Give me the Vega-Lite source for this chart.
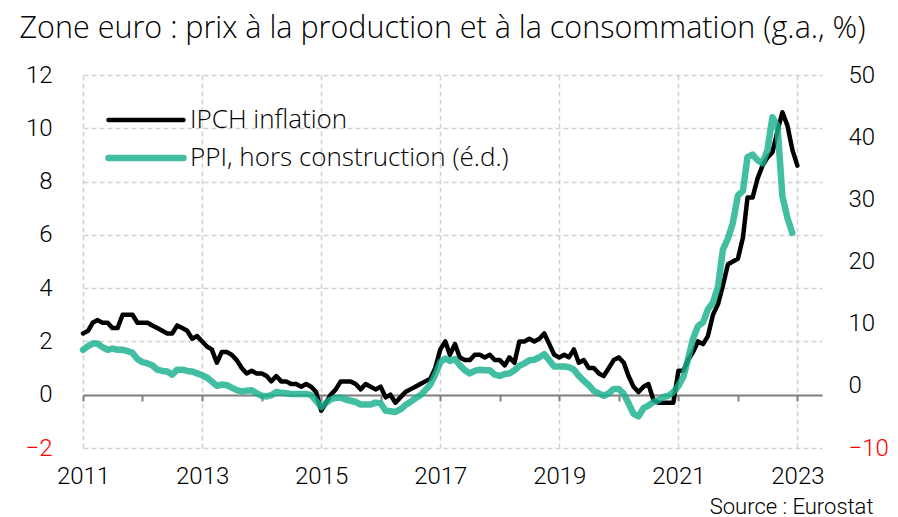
{
  "$schema": "https://vega.github.io/schema/vega-lite/v6.json",
  "width": 739,
  "height": 373,
  "autosize": {"type": "none"},
  "padding": {"left": 83, "top": 75, "right": 76, "bottom": 69},
  "config": {
    "font": "Roboto",
    "view": {"stroke": null},
    "axis": {"labelFont": "Roboto", "labelFontWeight": 300, "labelFontSize": 24, "labelColor": "#000000", "titleFont": "Roboto"}
  },
  "title": {
    "text": "Zone euro : prix à la production et à la consommation (g.a., %)",
    "font": "Open Sans",
    "fontSize": 30.5,
    "fontWeight": 300,
    "color": "#000000",
    "anchor": "middle",
    "offset": 19,
    "dx": -10
  },
  "datasets": {
    "ipch": [
      {"date":"2011-01-01","series":"IPCH inflation","value":2.3},{"date":"2011-02-01","series":"IPCH inflation","value":2.4},{"date":"2011-03-01","series":"IPCH inflation","value":2.7},{"date":"2011-04-01","series":"IPCH inflation","value":2.8},{"date":"2011-05-01","series":"IPCH inflation","value":2.7},{"date":"2011-06-01","series":"IPCH inflation","value":2.7},{"date":"2011-07-01","series":"IPCH inflation","value":2.5},{"date":"2011-08-01","series":"IPCH inflation","value":2.5},{"date":"2011-09-01","series":"IPCH inflation","value":3.0},{"date":"2011-10-01","series":"IPCH inflation","value":3.0},{"date":"2011-11-01","series":"IPCH inflation","value":3.0},{"date":"2011-12-01","series":"IPCH inflation","value":2.7},
      {"date":"2012-01-01","series":"IPCH inflation","value":2.7},{"date":"2012-02-01","series":"IPCH inflation","value":2.7},{"date":"2012-03-01","series":"IPCH inflation","value":2.6},{"date":"2012-04-01","series":"IPCH inflation","value":2.5},{"date":"2012-05-01","series":"IPCH inflation","value":2.4},{"date":"2012-06-01","series":"IPCH inflation","value":2.3},{"date":"2012-07-01","series":"IPCH inflation","value":2.3},{"date":"2012-08-01","series":"IPCH inflation","value":2.6},{"date":"2012-09-01","series":"IPCH inflation","value":2.5},{"date":"2012-10-01","series":"IPCH inflation","value":2.4},{"date":"2012-11-01","series":"IPCH inflation","value":2.1},{"date":"2012-12-01","series":"IPCH inflation","value":2.2},
      {"date":"2013-01-01","series":"IPCH inflation","value":2.0},{"date":"2013-02-01","series":"IPCH inflation","value":1.8},{"date":"2013-03-01","series":"IPCH inflation","value":1.7},{"date":"2013-04-01","series":"IPCH inflation","value":1.2},{"date":"2013-05-01","series":"IPCH inflation","value":1.6},{"date":"2013-06-01","series":"IPCH inflation","value":1.6},{"date":"2013-07-01","series":"IPCH inflation","value":1.5},{"date":"2013-08-01","series":"IPCH inflation","value":1.3},{"date":"2013-09-01","series":"IPCH inflation","value":1.0},{"date":"2013-10-01","series":"IPCH inflation","value":0.8},{"date":"2013-11-01","series":"IPCH inflation","value":0.9},{"date":"2013-12-01","series":"IPCH inflation","value":0.8},
      {"date":"2014-01-01","series":"IPCH inflation","value":0.8},{"date":"2014-02-01","series":"IPCH inflation","value":0.7},{"date":"2014-03-01","series":"IPCH inflation","value":0.5},{"date":"2014-04-01","series":"IPCH inflation","value":0.7},{"date":"2014-05-01","series":"IPCH inflation","value":0.5},{"date":"2014-06-01","series":"IPCH inflation","value":0.5},{"date":"2014-07-01","series":"IPCH inflation","value":0.4},{"date":"2014-08-01","series":"IPCH inflation","value":0.4},{"date":"2014-09-01","series":"IPCH inflation","value":0.3},{"date":"2014-10-01","series":"IPCH inflation","value":0.4},{"date":"2014-11-01","series":"IPCH inflation","value":0.3},{"date":"2014-12-01","series":"IPCH inflation","value":0.1},
      {"date":"2015-01-01","series":"IPCH inflation","value":-0.6},{"date":"2015-02-01","series":"IPCH inflation","value":-0.3},{"date":"2015-03-01","series":"IPCH inflation","value":0.0},{"date":"2015-04-01","series":"IPCH inflation","value":0.2},{"date":"2015-05-01","series":"IPCH inflation","value":0.5},{"date":"2015-06-01","series":"IPCH inflation","value":0.5},{"date":"2015-07-01","series":"IPCH inflation","value":0.5},{"date":"2015-08-01","series":"IPCH inflation","value":0.4},{"date":"2015-09-01","series":"IPCH inflation","value":0.2},{"date":"2015-10-01","series":"IPCH inflation","value":0.4},{"date":"2015-11-01","series":"IPCH inflation","value":0.3},{"date":"2015-12-01","series":"IPCH inflation","value":0.2},
      {"date":"2016-01-01","series":"IPCH inflation","value":0.3},{"date":"2016-02-01","series":"IPCH inflation","value":-0.1},{"date":"2016-03-01","series":"IPCH inflation","value":0.0},{"date":"2016-04-01","series":"IPCH inflation","value":-0.3},{"date":"2016-05-01","series":"IPCH inflation","value":-0.1},{"date":"2016-06-01","series":"IPCH inflation","value":0.1},{"date":"2016-07-01","series":"IPCH inflation","value":0.2},{"date":"2016-08-01","series":"IPCH inflation","value":0.3},{"date":"2016-09-01","series":"IPCH inflation","value":0.4},{"date":"2016-10-01","series":"IPCH inflation","value":0.5},{"date":"2016-11-01","series":"IPCH inflation","value":0.6},{"date":"2016-12-01","series":"IPCH inflation","value":1.0},
      {"date":"2017-01-01","series":"IPCH inflation","value":1.7},{"date":"2017-02-01","series":"IPCH inflation","value":2.0},{"date":"2017-03-01","series":"IPCH inflation","value":1.5},{"date":"2017-04-01","series":"IPCH inflation","value":1.9},{"date":"2017-05-01","series":"IPCH inflation","value":1.4},{"date":"2017-06-01","series":"IPCH inflation","value":1.3},{"date":"2017-07-01","series":"IPCH inflation","value":1.3},{"date":"2017-08-01","series":"IPCH inflation","value":1.5},{"date":"2017-09-01","series":"IPCH inflation","value":1.5},{"date":"2017-10-01","series":"IPCH inflation","value":1.4},{"date":"2017-11-01","series":"IPCH inflation","value":1.5},{"date":"2017-12-01","series":"IPCH inflation","value":1.3},
      {"date":"2018-01-01","series":"IPCH inflation","value":1.3},{"date":"2018-02-01","series":"IPCH inflation","value":1.1},{"date":"2018-03-01","series":"IPCH inflation","value":1.4},{"date":"2018-04-01","series":"IPCH inflation","value":1.2},{"date":"2018-05-01","series":"IPCH inflation","value":2.0},{"date":"2018-06-01","series":"IPCH inflation","value":2.0},{"date":"2018-07-01","series":"IPCH inflation","value":2.1},{"date":"2018-08-01","series":"IPCH inflation","value":2.0},{"date":"2018-09-01","series":"IPCH inflation","value":2.1},{"date":"2018-10-01","series":"IPCH inflation","value":2.3},{"date":"2018-11-01","series":"IPCH inflation","value":1.9},{"date":"2018-12-01","series":"IPCH inflation","value":1.5},
      {"date":"2019-01-01","series":"IPCH inflation","value":1.4},{"date":"2019-02-01","series":"IPCH inflation","value":1.5},{"date":"2019-03-01","series":"IPCH inflation","value":1.4},{"date":"2019-04-01","series":"IPCH inflation","value":1.7},{"date":"2019-05-01","series":"IPCH inflation","value":1.2},{"date":"2019-06-01","series":"IPCH inflation","value":1.3},{"date":"2019-07-01","series":"IPCH inflation","value":1.0},{"date":"2019-08-01","series":"IPCH inflation","value":1.0},{"date":"2019-09-01","series":"IPCH inflation","value":0.8},{"date":"2019-10-01","series":"IPCH inflation","value":0.7},{"date":"2019-11-01","series":"IPCH inflation","value":1.0},{"date":"2019-12-01","series":"IPCH inflation","value":1.3},
      {"date":"2020-01-01","series":"IPCH inflation","value":1.4},{"date":"2020-02-01","series":"IPCH inflation","value":1.2},{"date":"2020-03-01","series":"IPCH inflation","value":0.7},{"date":"2020-04-01","series":"IPCH inflation","value":0.3},{"date":"2020-05-01","series":"IPCH inflation","value":0.1},{"date":"2020-06-01","series":"IPCH inflation","value":0.3},{"date":"2020-07-01","series":"IPCH inflation","value":0.4},{"date":"2020-08-01","series":"IPCH inflation","value":-0.2},{"date":"2020-09-01","series":"IPCH inflation","value":-0.3},{"date":"2020-10-01","series":"IPCH inflation","value":-0.3},{"date":"2020-11-01","series":"IPCH inflation","value":-0.3},{"date":"2020-12-01","series":"IPCH inflation","value":-0.3},
      {"date":"2021-01-01","series":"IPCH inflation","value":0.9},{"date":"2021-02-01","series":"IPCH inflation","value":0.9},{"date":"2021-03-01","series":"IPCH inflation","value":1.3},{"date":"2021-04-01","series":"IPCH inflation","value":1.6},{"date":"2021-05-01","series":"IPCH inflation","value":2.0},{"date":"2021-06-01","series":"IPCH inflation","value":1.9},{"date":"2021-07-01","series":"IPCH inflation","value":2.2},{"date":"2021-08-01","series":"IPCH inflation","value":3.0},{"date":"2021-09-01","series":"IPCH inflation","value":3.4},{"date":"2021-10-01","series":"IPCH inflation","value":4.1},{"date":"2021-11-01","series":"IPCH inflation","value":4.9},{"date":"2021-12-01","series":"IPCH inflation","value":5.0},
      {"date":"2022-01-01","series":"IPCH inflation","value":5.1},{"date":"2022-02-01","series":"IPCH inflation","value":5.9},{"date":"2022-03-01","series":"IPCH inflation","value":7.4},{"date":"2022-04-01","series":"IPCH inflation","value":7.4},{"date":"2022-05-01","series":"IPCH inflation","value":8.1},{"date":"2022-06-01","series":"IPCH inflation","value":8.6},{"date":"2022-07-01","series":"IPCH inflation","value":8.9},{"date":"2022-08-01","series":"IPCH inflation","value":9.1},{"date":"2022-09-01","series":"IPCH inflation","value":9.9},{"date":"2022-10-01","series":"IPCH inflation","value":10.6},{"date":"2022-11-01","series":"IPCH inflation","value":10.1},{"date":"2022-12-01","series":"IPCH inflation","value":9.2},
      {"date":"2023-01-01","series":"IPCH inflation","value":8.6}
    ],
    "ppi": [
      {"date":"2011-01-01","series":"PPI, hors construction (é.d.)","value":5.8},{"date":"2011-02-01","series":"PPI, hors construction (é.d.)","value":6.4},{"date":"2011-03-01","series":"PPI, hors construction (é.d.)","value":6.8},{"date":"2011-04-01","series":"PPI, hors construction (é.d.)","value":6.8},{"date":"2011-05-01","series":"PPI, hors construction (é.d.)","value":6.2},{"date":"2011-06-01","series":"PPI, hors construction (é.d.)","value":5.8},{"date":"2011-07-01","series":"PPI, hors construction (é.d.)","value":6.0},{"date":"2011-08-01","series":"PPI, hors construction (é.d.)","value":5.8},{"date":"2011-09-01","series":"PPI, hors construction (é.d.)","value":5.8},{"date":"2011-10-01","series":"PPI, hors construction (é.d.)","value":5.6},{"date":"2011-11-01","series":"PPI, hors construction (é.d.)","value":5.3},{"date":"2011-12-01","series":"PPI, hors construction (é.d.)","value":4.3},
      {"date":"2012-01-01","series":"PPI, hors construction (é.d.)","value":3.8},{"date":"2012-02-01","series":"PPI, hors construction (é.d.)","value":3.6},{"date":"2012-03-01","series":"PPI, hors construction (é.d.)","value":3.3},{"date":"2012-04-01","series":"PPI, hors construction (é.d.)","value":2.6},{"date":"2012-05-01","series":"PPI, hors construction (é.d.)","value":2.4},{"date":"2012-06-01","series":"PPI, hors construction (é.d.)","value":2.3},{"date":"2012-07-01","series":"PPI, hors construction (é.d.)","value":1.8},{"date":"2012-08-01","series":"PPI, hors construction (é.d.)","value":2.6},{"date":"2012-09-01","series":"PPI, hors construction (é.d.)","value":2.6},{"date":"2012-10-01","series":"PPI, hors construction (é.d.)","value":2.4},{"date":"2012-11-01","series":"PPI, hors construction (é.d.)","value":2.3},{"date":"2012-12-01","series":"PPI, hors construction (é.d.)","value":2.0},
      {"date":"2013-01-01","series":"PPI, hors construction (é.d.)","value":1.7},{"date":"2013-02-01","series":"PPI, hors construction (é.d.)","value":1.3},{"date":"2013-03-01","series":"PPI, hors construction (é.d.)","value":0.7},{"date":"2013-04-01","series":"PPI, hors construction (é.d.)","value":0.0},{"date":"2013-05-01","series":"PPI, hors construction (é.d.)","value":0.2},{"date":"2013-06-01","series":"PPI, hors construction (é.d.)","value":0.1},{"date":"2013-07-01","series":"PPI, hors construction (é.d.)","value":-0.3},{"date":"2013-08-01","series":"PPI, hors construction (é.d.)","value":-0.7},{"date":"2013-09-01","series":"PPI, hors construction (é.d.)","value":-0.9},{"date":"2013-10-01","series":"PPI, hors construction (é.d.)","value":-0.8},{"date":"2013-11-01","series":"PPI, hors construction (é.d.)","value":-0.7},{"date":"2013-12-01","series":"PPI, hors construction (é.d.)","value":-1.2},
      {"date":"2014-01-01","series":"PPI, hors construction (é.d.)","value":-1.6},{"date":"2014-02-01","series":"PPI, hors construction (é.d.)","value":-1.7},{"date":"2014-03-01","series":"PPI, hors construction (é.d.)","value":-1.5},{"date":"2014-04-01","series":"PPI, hors construction (é.d.)","value":-1.0},{"date":"2014-05-01","series":"PPI, hors construction (é.d.)","value":-1.1},{"date":"2014-06-01","series":"PPI, hors construction (é.d.)","value":-1.2},{"date":"2014-07-01","series":"PPI, hors construction (é.d.)","value":-1.3},{"date":"2014-08-01","series":"PPI, hors construction (é.d.)","value":-1.3},{"date":"2014-09-01","series":"PPI, hors construction (é.d.)","value":-1.3},{"date":"2014-10-01","series":"PPI, hors construction (é.d.)","value":-1.3},{"date":"2014-11-01","series":"PPI, hors construction (é.d.)","value":-1.5},{"date":"2014-12-01","series":"PPI, hors construction (é.d.)","value":-2.4},
      {"date":"2015-01-01","series":"PPI, hors construction (é.d.)","value":-3.4},{"date":"2015-02-01","series":"PPI, hors construction (é.d.)","value":-2.7},{"date":"2015-03-01","series":"PPI, hors construction (é.d.)","value":-2.2},{"date":"2015-04-01","series":"PPI, hors construction (é.d.)","value":-1.9},{"date":"2015-05-01","series":"PPI, hors construction (é.d.)","value":-1.9},{"date":"2015-06-01","series":"PPI, hors construction (é.d.)","value":-2.2},{"date":"2015-07-01","series":"PPI, hors construction (é.d.)","value":-2.4},{"date":"2015-08-01","series":"PPI, hors construction (é.d.)","value":-2.6},{"date":"2015-09-01","series":"PPI, hors construction (é.d.)","value":-3.0},{"date":"2015-10-01","series":"PPI, hors construction (é.d.)","value":-3.0},{"date":"2015-11-01","series":"PPI, hors construction (é.d.)","value":-3.0},{"date":"2015-12-01","series":"PPI, hors construction (é.d.)","value":-2.7},
      {"date":"2016-01-01","series":"PPI, hors construction (é.d.)","value":-2.8},{"date":"2016-02-01","series":"PPI, hors construction (é.d.)","value":-4.0},{"date":"2016-03-01","series":"PPI, hors construction (é.d.)","value":-4.1},{"date":"2016-04-01","series":"PPI, hors construction (é.d.)","value":-4.2},{"date":"2016-05-01","series":"PPI, hors construction (é.d.)","value":-3.8},{"date":"2016-06-01","series":"PPI, hors construction (é.d.)","value":-3.1},{"date":"2016-07-01","series":"PPI, hors construction (é.d.)","value":-2.6},{"date":"2016-08-01","series":"PPI, hors construction (é.d.)","value":-2.0},{"date":"2016-09-01","series":"PPI, hors construction (é.d.)","value":-1.5},{"date":"2016-10-01","series":"PPI, hors construction (é.d.)","value":-0.7},{"date":"2016-11-01","series":"PPI, hors construction (é.d.)","value":0.2},{"date":"2016-12-01","series":"PPI, hors construction (é.d.)","value":1.8},
      {"date":"2017-01-01","series":"PPI, hors construction (é.d.)","value":3.8},{"date":"2017-02-01","series":"PPI, hors construction (é.d.)","value":4.4},{"date":"2017-03-01","series":"PPI, hors construction (é.d.)","value":4.0},{"date":"2017-04-01","series":"PPI, hors construction (é.d.)","value":4.3},{"date":"2017-05-01","series":"PPI, hors construction (é.d.)","value":3.3},{"date":"2017-06-01","series":"PPI, hors construction (é.d.)","value":2.5},{"date":"2017-07-01","series":"PPI, hors construction (é.d.)","value":2.0},{"date":"2017-08-01","series":"PPI, hors construction (é.d.)","value":2.4},{"date":"2017-09-01","series":"PPI, hors construction (é.d.)","value":2.6},{"date":"2017-10-01","series":"PPI, hors construction (é.d.)","value":2.5},{"date":"2017-11-01","series":"PPI, hors construction (é.d.)","value":2.5},{"date":"2017-12-01","series":"PPI, hors construction (é.d.)","value":1.8},
      {"date":"2018-01-01","series":"PPI, hors construction (é.d.)","value":1.6},{"date":"2018-02-01","series":"PPI, hors construction (é.d.)","value":1.9},{"date":"2018-03-01","series":"PPI, hors construction (é.d.)","value":2.0},{"date":"2018-04-01","series":"PPI, hors construction (é.d.)","value":2.5},{"date":"2018-05-01","series":"PPI, hors construction (é.d.)","value":3.2},{"date":"2018-06-01","series":"PPI, hors construction (é.d.)","value":3.6},{"date":"2018-07-01","series":"PPI, hors construction (é.d.)","value":4.1},{"date":"2018-08-01","series":"PPI, hors construction (é.d.)","value":4.2},{"date":"2018-09-01","series":"PPI, hors construction (é.d.)","value":4.6},{"date":"2018-10-01","series":"PPI, hors construction (é.d.)","value":5.1},{"date":"2018-11-01","series":"PPI, hors construction (é.d.)","value":4.1},{"date":"2018-12-01","series":"PPI, hors construction (é.d.)","value":3.1},
      {"date":"2019-01-01","series":"PPI, hors construction (é.d.)","value":3.1},{"date":"2019-02-01","series":"PPI, hors construction (é.d.)","value":3.1},{"date":"2019-03-01","series":"PPI, hors construction (é.d.)","value":3.0},{"date":"2019-04-01","series":"PPI, hors construction (é.d.)","value":2.6},{"date":"2019-05-01","series":"PPI, hors construction (é.d.)","value":1.6},{"date":"2019-06-01","series":"PPI, hors construction (é.d.)","value":0.8},{"date":"2019-07-01","series":"PPI, hors construction (é.d.)","value":0.1},{"date":"2019-08-01","series":"PPI, hors construction (é.d.)","value":-0.8},{"date":"2019-09-01","series":"PPI, hors construction (é.d.)","value":-1.2},{"date":"2019-10-01","series":"PPI, hors construction (é.d.)","value":-1.6},{"date":"2019-11-01","series":"PPI, hors construction (é.d.)","value":-1.2},{"date":"2019-12-01","series":"PPI, hors construction (é.d.)","value":-0.5},
      {"date":"2020-01-01","series":"PPI, hors construction (é.d.)","value":-0.5},{"date":"2020-02-01","series":"PPI, hors construction (é.d.)","value":-1.3},{"date":"2020-03-01","series":"PPI, hors construction (é.d.)","value":-2.8},{"date":"2020-04-01","series":"PPI, hors construction (é.d.)","value":-4.5},{"date":"2020-05-01","series":"PPI, hors construction (é.d.)","value":-4.9},{"date":"2020-06-01","series":"PPI, hors construction (é.d.)","value":-3.6},{"date":"2020-07-01","series":"PPI, hors construction (é.d.)","value":-3.2},{"date":"2020-08-01","series":"PPI, hors construction (é.d.)","value":-2.6},{"date":"2020-09-01","series":"PPI, hors construction (é.d.)","value":-2.3},{"date":"2020-10-01","series":"PPI, hors construction (é.d.)","value":-1.8},{"date":"2020-11-01","series":"PPI, hors construction (é.d.)","value":-1.6},{"date":"2020-12-01","series":"PPI, hors construction (é.d.)","value":-1.0},
      {"date":"2021-01-01","series":"PPI, hors construction (é.d.)","value":0.0},{"date":"2021-02-01","series":"PPI, hors construction (é.d.)","value":1.5},{"date":"2021-03-01","series":"PPI, hors construction (é.d.)","value":4.3},{"date":"2021-04-01","series":"PPI, hors construction (é.d.)","value":7.6},{"date":"2021-05-01","series":"PPI, hors construction (é.d.)","value":9.6},{"date":"2021-06-01","series":"PPI, hors construction (é.d.)","value":10.2},{"date":"2021-07-01","series":"PPI, hors construction (é.d.)","value":12.3},{"date":"2021-08-01","series":"PPI, hors construction (é.d.)","value":13.4},{"date":"2021-09-01","series":"PPI, hors construction (é.d.)","value":16.0},{"date":"2021-10-01","series":"PPI, hors construction (é.d.)","value":21.9},{"date":"2021-11-01","series":"PPI, hors construction (é.d.)","value":23.7},{"date":"2021-12-01","series":"PPI, hors construction (é.d.)","value":26.2},
      {"date":"2022-01-01","series":"PPI, hors construction (é.d.)","value":30.6},{"date":"2022-02-01","series":"PPI, hors construction (é.d.)","value":31.4},{"date":"2022-03-01","series":"PPI, hors construction (é.d.)","value":36.8},{"date":"2022-04-01","series":"PPI, hors construction (é.d.)","value":37.2},{"date":"2022-05-01","series":"PPI, hors construction (é.d.)","value":36.3},{"date":"2022-06-01","series":"PPI, hors construction (é.d.)","value":35.8},{"date":"2022-07-01","series":"PPI, hors construction (é.d.)","value":37.9},{"date":"2022-08-01","series":"PPI, hors construction (é.d.)","value":43.2},{"date":"2022-09-01","series":"PPI, hors construction (é.d.)","value":41.8},{"date":"2022-10-01","series":"PPI, hors construction (é.d.)","value":30.5},{"date":"2022-11-01","series":"PPI, hors construction (é.d.)","value":27.0},{"date":"2022-12-01","series":"PPI, hors construction (é.d.)","value":24.6}
    ]
  },
  "layer": [
    {
      "data": {"name": "ipch"},
      "mark": {"type": "line", "strokeWidth": 4.5, "strokeJoin": "round", "strokeCap": "round"},
      "encoding": {
        "x": {
          "field": "date",
          "type": "temporal",
          "scale": {"type": "utc", "domain": [{"year": 2011, "month": 1, "date": 1, "utc": true}, {"year": 2023, "month": 6, "date": 1, "utc": true}]},
          "axis": {
            "orient": "bottom",
            "values": [
              {"year": 2011, "month": 1, "date": 1, "utc": true},
              {"year": 2013, "month": 1, "date": 1, "utc": true},
              {"year": 2015, "month": 1, "date": 1, "utc": true},
              {"year": 2017, "month": 1, "date": 1, "utc": true},
              {"year": 2019, "month": 1, "date": 1, "utc": true},
              {"year": 2021, "month": 1, "date": 1, "utc": true},
              {"year": 2023, "month": 1, "date": 1, "utc": true}
            ],
            "format": "%Y",
            "grid": true,
            "gridDash": [5, 3],
            "gridColor": "#d2d2d2",
            "gridWidth": 1.5,
            "domain": false,
            "ticks": false,
            "labelPadding": 16,
            "labelFlush": false,
            "labelOverlap": false,
            "title": "Source : Eurostat",
            "titleX": 790,
            "titleY": 65,
            "titleAlign": "right",
            "titleBaseline": "alphabetic",
            "titleFontSize": 22,
            "titleFontWeight": 300,
            "titleColor": "#000000"
          }
        },
        "y": {
          "field": "value",
          "type": "quantitative",
          "scale": {"domain": [-2, 12], "nice": false, "zero": false},
          "axis": {
            "orient": "left",
            "values": [-2, 0, 2, 4, 6, 8, 10, 12],
            "grid": true,
            "gridDash": [5, 3],
            "gridColor": "#d2d2d2",
            "gridWidth": 1.5,
            "domain": false,
            "ticks": false,
            "labelPadding": 31,
            "labelColor": {"condition": {"test": "datum.value < 0", "value": "#ff0000"}, "value": "#000000"},
            "title": null
          }
        },
        "color": {
          "field": "series",
          "type": "nominal",
          "scale": {"domain": ["IPCH inflation", "PPI, hors construction (é.d.)"], "range": ["#000000", "#18b08e"]},
          "legend": {
            "title": null,
            "orient": "none",
            "legendX": 50,
            "legendY": 32,
            "padding": 0,
            "symbolType": "stroke",
            "symbolSize": 5625,
            "symbolStrokeWidth": 5,
            "labelFont": "Open Sans",
            "labelFontWeight": 300,
            "labelFontSize": 26,
            "labelColor": "#000000",
            "labelOffset": 31,
            "labelLimit": 600,
            "rowPadding": 12,
            "encode": {
              "symbols": {
                "update": {
                  "strokeWidth": {"signal": "datum.index === 1 ? 6.5 : 4.5"},
                  "opacity": {"signal": "datum.index === 1 ? 0.82 : 1"},
                  "strokeCap": {"value": "round"}
                }
              }
            }
          }
        }
      }
    },
    {
      "data": {"name": "ppi"},
      "mark": {"type": "line", "strokeWidth": 6.5, "strokeJoin": "round", "strokeCap": "round", "opacity": 0.82},
      "encoding": {
        "x": {
          "field": "date",
          "type": "temporal",
          "axis": {
            "orient": "bottom",
            "offset": -53,
            "values": [
              {"year": 2011, "month": 1, "date": 1, "utc": true},
              {"year": 2012, "month": 1, "date": 1, "utc": true},
              {"year": 2013, "month": 1, "date": 1, "utc": true},
              {"year": 2014, "month": 1, "date": 1, "utc": true},
              {"year": 2015, "month": 1, "date": 1, "utc": true},
              {"year": 2016, "month": 1, "date": 1, "utc": true},
              {"year": 2017, "month": 1, "date": 1, "utc": true},
              {"year": 2018, "month": 1, "date": 1, "utc": true},
              {"year": 2019, "month": 1, "date": 1, "utc": true},
              {"year": 2020, "month": 1, "date": 1, "utc": true},
              {"year": 2021, "month": 1, "date": 1, "utc": true},
              {"year": 2022, "month": 1, "date": 1, "utc": true},
              {"year": 2023, "month": 1, "date": 1, "utc": true}
            ],
            "labels": false,
            "grid": false,
            "domain": true,
            "domainColor": "#808080",
            "domainWidth": 2,
            "ticks": true,
            "tickColor": "#808080",
            "tickWidth": 2,
            "tickSize": 6,
            "title": null
          }
        },
        "y": {
          "field": "value",
          "type": "quantitative",
          "scale": {"domain": [-10, 50], "nice": false, "zero": false},
          "axis": {
            "orient": "right",
            "values": [-10, 0, 10, 20, 30, 40, 50],
            "grid": false,
            "domain": false,
            "ticks": false,
            "labelPadding": 26,
            "labelColor": {"condition": {"test": "datum.value < 0", "value": "#ff0000"}, "value": "#000000"},
            "title": null
          }
        },
        "color": {"field": "series", "type": "nominal"}
      }
    }
  ],
  "resolve": {"scale": {"y": "independent"}, "axis": {"x": "independent", "y": "independent"}}
}
